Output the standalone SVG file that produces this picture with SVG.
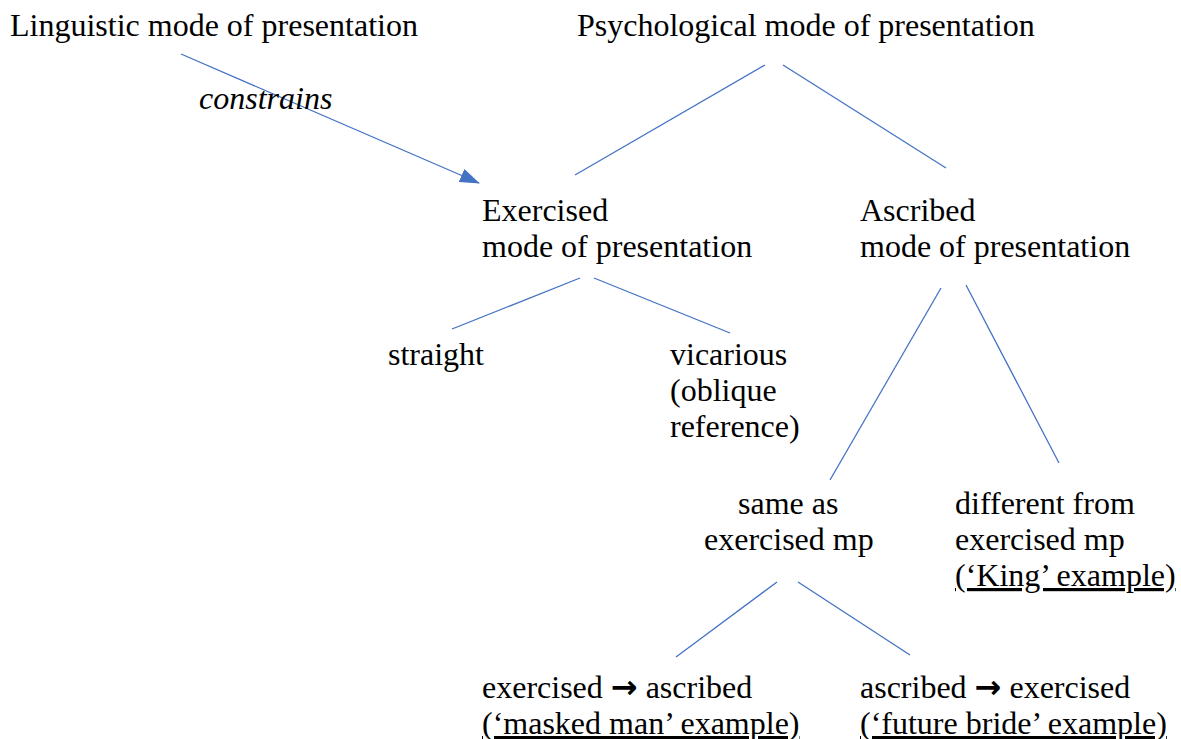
<svg xmlns="http://www.w3.org/2000/svg" width="1181" height="739" viewBox="0 0 1181 739">
<style>
text{font-family:"Liberation Serif","Times New Roman",serif;font-size:32px;fill:#000}
.it{font-style:italic}
.u{text-decoration:underline}
.ar{font-family:"DejaVu Sans",sans-serif;font-weight:bold;font-size:32px}
.c line{stroke:#4472C4;stroke-width:1.3}
</style>
<defs>
<marker id="ah2" viewBox="0 0 20 14" refX="19" refY="7" markerWidth="20" markerHeight="14" orient="auto" markerUnits="userSpaceOnUse">
<path d="M0,0 L20,7 L0,14 Z" fill="#4472C4"/>
</marker>
</defs>
<rect width="1181" height="739" fill="#fff"/>
<g class="c" id="connectors">
<line x1="181" y1="54" x2="479" y2="183" marker-end="url(#ah2)"/>
<line x1="765" y1="65" x2="575" y2="175"/>
<line x1="783" y1="65" x2="946" y2="168"/>
<line x1="580" y1="278" x2="452" y2="329"/>
<line x1="594" y1="278" x2="730" y2="333"/>
<line x1="941" y1="288" x2="830" y2="480"/>
<line x1="966" y1="285" x2="1059" y2="463"/>
<line x1="777" y1="582" x2="676" y2="657"/>
<line x1="798" y1="582" x2="910" y2="655"/>
</g>
<g id="linguistic"><text x="10" y="36">Linguistic mode of presentation</text></g>
<g id="psychological"><text x="577" y="36">Psychological mode of presentation</text></g>
<g id="constrains"><text class="it" x="199" y="109">constrains</text></g>
<g id="exercised"><text x="482" y="221">Exercised</text><text x="482" y="257">mode of presentation</text></g>
<g id="ascribed"><text x="860" y="221">Ascribed</text><text x="860" y="257">mode of presentation</text></g>
<g id="straight"><text x="388" y="365">straight</text></g>
<g id="vicarious"><text x="670" y="365">vicarious</text><text x="670" y="401">(oblique</text><text x="670" y="437">reference)</text></g>
<g id="same"><text x="738" y="514">same as</text><text x="704" y="550">exercised mp</text></g>
<g id="different"><text x="955" y="514">different from</text><text x="955" y="550">exercised mp</text><text class="u" x="955" y="586">(‘King’ example)</text></g>
<g id="ex2asc"><text x="482" y="698">exercised <tspan class="ar">→</tspan> ascribed</text><text class="u" x="482" y="734">(‘masked man’ example)</text></g>
<g id="asc2ex"><text x="860" y="698">ascribed <tspan class="ar">→</tspan> exercised</text><text class="u" x="860" y="734">(‘future bride’ example)</text></g>
</svg>
